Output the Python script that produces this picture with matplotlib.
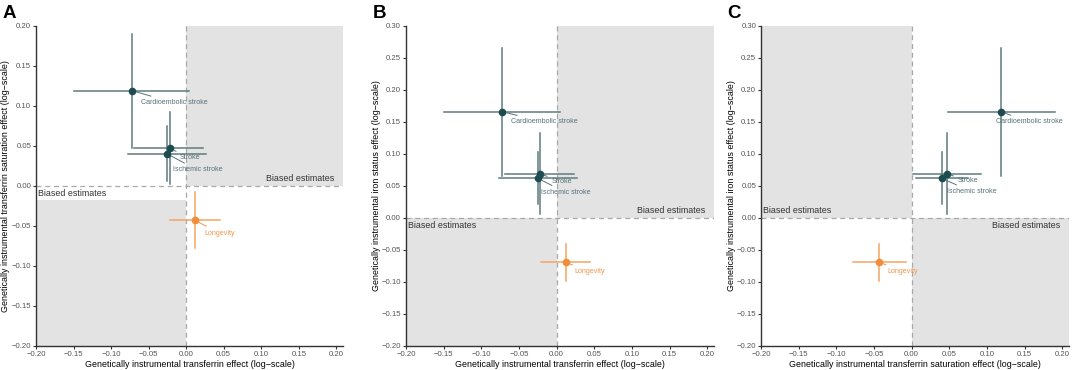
import matplotlib
matplotlib.use("Agg")
import matplotlib.pyplot as plt
from matplotlib.patches import Rectangle

plt.rcParams["font.family"] = ["Liberation Sans", "DejaVu Sans"]

# outcomes
outcomes = ["Cardioembolic stroke", "Stroke", "Ischemic stroke", "Longevity"]

# exposure effects (log-scale): estimate, lower, upper per outcome
transferrin_est = [-0.072, -0.022, -0.025, 0.012]
transferrin_lo = [-0.149, -0.069, -0.077, -0.021]
transferrin_hi = [0.004, 0.023, 0.027, 0.045]

tsat_est = [0.119, 0.047, 0.040, -0.043]
tsat_lo = [0.048, 0.002, 0.006, -0.078]
tsat_hi = [0.190, 0.092, 0.075, -0.008]

iron_est = [0.166, 0.069, 0.062, -0.069]
iron_lo = [0.066, 0.006, 0.022, -0.098]
iron_hi = [0.265, 0.132, 0.103, -0.040]

x_ticks = [-0.20, -0.15, -0.10, -0.05, 0.00, 0.05, 0.10, 0.15, 0.20]
y_ticks_a = [-0.20, -0.15, -0.10, -0.05, 0.00, 0.05, 0.10, 0.15, 0.20]
y_ticks_bc = [-0.20, -0.15, -0.10, -0.05, 0.00, 0.05, 0.10, 0.15, 0.20, 0.25, 0.30]

# label anchor (text left edge) per panel
labels_a = [(-0.060, 0.104), (-0.008, 0.035), (-0.018, 0.020), (0.024, -0.059)]
labels_b = [(-0.061, 0.150), (-0.007, 0.057), (-0.021, 0.040), (0.023, -0.084)]
labels_c = [(0.112, 0.150), (0.061, 0.058), (0.047, 0.041), (-0.032, -0.084)]

PT_COLS = ["#1d4b4f", "#1d4b4f", "#1d4b4f", "#f28c38"]
BAR_COLS = ["#5f7b7c", "#5f7b7c", "#5f7b7c", "#f2a565"]
TXT_COLS = ["#56737a", "#56737a", "#56737a", "#f0954a"]
GREY = "#e3e3e3"
TICKFMT = plt.FuncFormatter(lambda v, p: f"{v:.2f}".replace("-", "\u2212"))


def panel(ax, xe, xl, xh, ye, yl, yh, ymax, yticks, shade, labels, xlab, ylab, ylab_x):
    xmin, xmax, ymin = -0.2, 0.209, -0.2
    for (x0, x1, y0, y1) in shade:
        ax.add_patch(Rectangle((x0, y0), x1 - x0, y1 - y0, color=GREY, lw=0, zorder=0))
    ax.axvline(0, color="#a8a8a8", ls=(0, (4, 3)), lw=0.9, zorder=1)
    ax.axhline(0, color="#a8a8a8", ls=(0, (4, 3)), lw=0.9, zorder=1)

    for i in range(len(outcomes)):
        ax.plot([xl[i], xh[i]], [ye[i], ye[i]], color=BAR_COLS[i], lw=1.1, zorder=2)
        ax.plot([xe[i], xe[i]], [yl[i], yh[i]], color=BAR_COLS[i], lw=1.1, zorder=2)
    for i in range(len(outcomes)):
        ax.plot(xe[i], ye[i], "o", ms=5.5, color=PT_COLS[i], mec="none", zorder=3)
        tx, ty = labels[i]
        ax.annotate(outcomes[i], xy=(xe[i], ye[i]), xytext=(tx, ty), fontsize=5.1,
                    color=TXT_COLS[i], va="center", ha="left", zorder=4,
                    arrowprops=dict(arrowstyle="-", color=TXT_COLS[i], lw=0.7,
                                    shrinkA=1, shrinkB=3))

    ax.set_xlim(xmin, xmax)
    ax.set_ylim(ymin, ymax)
    ax.set_xticks(x_ticks)
    ax.set_yticks(yticks)
    ax.xaxis.set_major_formatter(TICKFMT)
    ax.yaxis.set_major_formatter(TICKFMT)
    ax.tick_params(labelsize=5.6, labelcolor="#555555", color="#333333", length=2.5, width=0.8, pad=1)
    for s in ["top", "right"]:
        ax.spines[s].set_visible(False)
    for s in ["left", "bottom"]:
        ax.spines[s].set_color("#333333")
        ax.spines[s].set_linewidth(1.0)
    ax.set_xlabel(xlab, fontsize=6.4, labelpad=1.5)
    ax.set_ylabel(ylab, fontsize=6.4)
    ax.yaxis.set_label_coords(ylab_x, 0.5)


fig = plt.figure(figsize=(10.72, 3.70), dpi=100)
ax_a = fig.add_axes([0.0336, 0.0649, 0.2864, 0.8649])
ax_b = fig.add_axes([0.3787, 0.0649, 0.2873, 0.8649])
ax_c = fig.add_axes([0.7099, 0.0649, 0.2873, 0.8649])

xlab_tf = "Genetically instrumental transferrin effect (log\u2212scale)"
xlab_ts = "Genetically instrumental transferrin saturation effect (log\u2212scale)"
ylab_ts = "Genetically instrumental transferrin saturation effect (log\u2212scale)"
ylab_ir = "Genetically instrumental iron status effect (log\u2212scale)"
BFS = 6.4

panel(ax_a, transferrin_est, transferrin_lo, transferrin_hi, tsat_est, tsat_lo, tsat_hi,
      0.2, y_ticks_a, [(0, 0.209, 0, 0.2), (-0.2, 0, -0.2, -0.018)], labels_a,
      xlab_tf, ylab_ts, -0.085)
ax_a.text(0.197, 0.004, "Biased estimates", fontsize=BFS, color="#333333", ha="right", va="bottom")
ax_a.text(-0.197, -0.004, "Biased estimates", fontsize=BFS, color="#333333", ha="left", va="top")

panel(ax_b, transferrin_est, transferrin_lo, transferrin_hi, iron_est, iron_lo, iron_hi,
      0.3, y_ticks_bc, [(0, 0.209, 0, 0.3), (-0.2, 0, -0.2, 0)], labels_b,
      xlab_tf, ylab_ir, -0.080)
ax_b.text(0.197, 0.004, "Biased estimates", fontsize=BFS, color="#333333", ha="right", va="bottom")
ax_b.text(-0.197, -0.004, "Biased estimates", fontsize=BFS, color="#333333", ha="left", va="top")

panel(ax_c, tsat_est, tsat_lo, tsat_hi, iron_est, iron_lo, iron_hi,
      0.3, y_ticks_bc, [(-0.2, 0, 0, 0.3), (0, 0.209, -0.2, 0)], labels_c,
      xlab_ts, ylab_ir, -0.080)
ax_c.text(0.197, -0.004, "Biased estimates", fontsize=BFS, color="#333333", ha="right", va="top")
ax_c.text(-0.197, 0.004, "Biased estimates", fontsize=BFS, color="#333333", ha="left", va="bottom")

# panel letters
for lx, letter in [(3, "A"), (373, "B"), (727, "C")]:
    fig.text(lx / 1072, 1 - 18 / 370, letter, fontsize=13.5, fontweight="bold",
             ha="left", va="baseline")

fig.savefig("out.png", dpi=100)
